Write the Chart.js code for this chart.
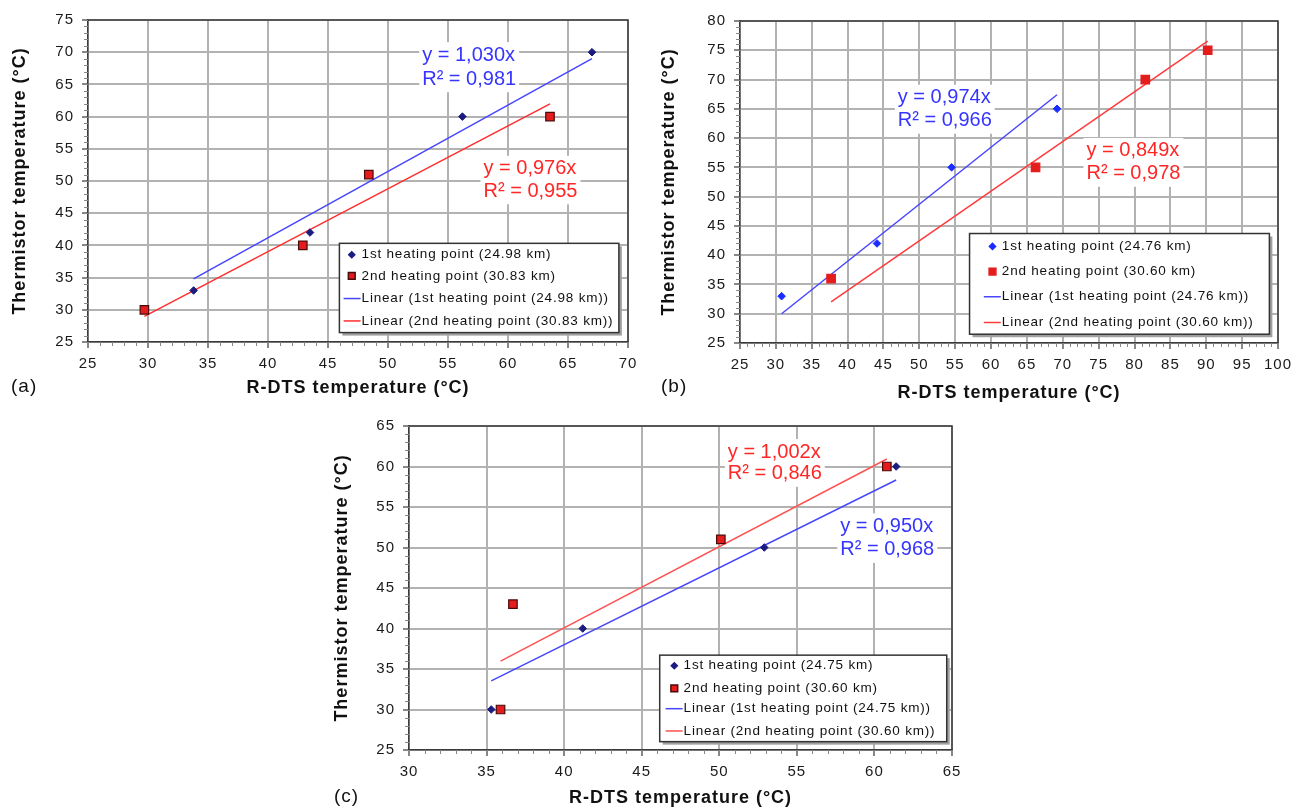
<!DOCTYPE html>
<html>
<head>
<meta charset="utf-8">
<script src="https://cdn.jsdelivr.net/npm/chart.js@4.4.1/dist/chart.umd.min.js"></script>
<style>
    html, body { margin: 0; padding: 0; background: #fff; width: 1300px; height: 811px; overflow: hidden; }
    .panel { position: absolute; }
    .tag { position: absolute; font: 19px "Liberation Sans", Arial, sans-serif; color: #111; letter-spacing: 1px; }
</style>
</head>
<body>
<div class="panel" style="left:0;top:0;width:650px;height:410px"><canvas id="chartA"></canvas></div>
<div class="panel" style="left:650px;top:0;width:650px;height:410px"><canvas id="chartB"></canvas></div>
<div class="panel" style="left:320px;top:405px;width:680px;height:406px"><canvas id="chartC"></canvas></div>
<div class="tag" style="left:11px;top:375px">(a)</div>
<div class="tag" style="left:661px;top:375px">(b)</div>
<div class="tag" style="left:334px;top:785px">(c)</div>
<script>
// (a)
var aRdts1 = [33.8, 43.5, 56.2, 67.0];
var aTherm1 = [33, 42, 60, 70];
var aRdts2 = [29.7, 42.9, 48.4, 63.5];
var aTherm2 = [30, 40, 51, 60];
var aSlopes = [1.030, 0.976];
var aR2 = [0.981, 0.955];
var aLabels = ['1st heating point (24.98 km)', '2nd heating point (30.83 km)'];

// (b)
var bRdts1 = [30.8, 44.1, 54.5, 69.2];
var bTherm1 = [33, 42, 55, 65];
var bRdts2 = [37.7, 66.2, 81.5, 90.2];
var bTherm2 = [36, 55, 70, 75];
var bSlopes = [0.974, 0.849];
var bR2 = [0.966, 0.978];
var bLabels = ['1st heating point (24.76 km)', '2nd heating point (30.60 km)'];

// (c)
var cRdts1 = [35.3, 41.2, 52.9, 61.4];
var cTherm1 = [30, 40, 50, 60];
var cRdts2 = [35.9, 36.7, 50.1, 60.8];
var cTherm2 = [30, 43, 51, 60];
var cSlopes = [0.950, 1.002];
var cR2 = [0.968, 0.846];
var cLabels = ['1st heating point (24.75 km)', '2nd heating point (30.60 km)'];

var xTitle = 'R-DTS temperature (°C)';
var yTitle = 'Thermistor temperature (°C)';
var FONT = '"Liberation Sans", Arial, sans-serif';

function points(xs, ys) {
    return xs.map(function (x, i) { return { x: x, y: ys[i] }; });
}

function fit(xs, k) {
    var lo = Math.min.apply(null, xs), hi = Math.max.apply(null, xs);
    return [{ x: lo, y: k * lo }, { x: hi, y: k * hi }];
}

function comma(v) { return v.toFixed(3).replace('.', ','); }

var frame = {
    id: 'frame',
    beforeDraw: function (chart) {
        chart.ctx.letterSpacing = '1px';
    },
    beforeDatasetsDraw: function (chart) {
        var ctx = chart.ctx, a = chart.chartArea, xs = chart.scales.x, ys = chart.scales.y;
        ctx.save();
        ctx.strokeStyle = '#888';
        ctx.lineWidth = 1;
        ctx.beginPath();
        for (var v = ys.min; v <= ys.max; v++) {
            var py = Math.round(ys.getPixelForValue(v)) + 0.5;
            ctx.moveTo(a.left - 4, py); ctx.lineTo(a.left, py);
        }
        for (var u = xs.min; u <= xs.max; u++) {
            var px = Math.round(xs.getPixelForValue(u)) + 0.5;
            ctx.moveTo(px, a.bottom); ctx.lineTo(px, a.bottom + 4);
        }
        ctx.stroke();
        ctx.strokeStyle = '#3a3a3a';
        ctx.lineWidth = 1.5;
        ctx.beginPath();
        ctx.moveTo(a.left, a.top); ctx.lineTo(a.right, a.top); ctx.lineTo(a.right, a.bottom);
        ctx.stroke();

        // equation labels
        var notes = chart.options.plugins.frame.notes;
        ctx.letterSpacing = '0px';
        ctx.font = '20px ' + FONT;
        ctx.textBaseline = 'middle';
        notes.forEach(function (n) {
            var x = xs.getPixelForValue(n.x);
            var y1 = ys.getPixelForValue(n.y1), y2 = ys.getPixelForValue(n.y2);
            var w = Math.max(ctx.measureText(n.lines[0]).width, ctx.measureText(n.lines[1]).width);
            ctx.fillStyle = '#fff';
            ctx.fillRect(x - 3, y1 - 13, w + 6, y2 - y1 + 26);
            ctx.fillStyle = n.color;
            ctx.fillText(n.lines[0], x, y1);
            ctx.fillText(n.lines[1], x, y2);
        });
        ctx.restore();
    },
    afterDatasetsDraw: function (chart) {
        var ctx = chart.ctx, xs = chart.scales.x, ys = chart.scales.y;
        var lg = chart.options.plugins.frame.legend;
        var l = xs.getPixelForValue(lg.x0), r = xs.getPixelForValue(lg.x1);
        var t = ys.getPixelForValue(lg.y0), b = ys.getPixelForValue(lg.y1);
        ctx.save();
        ctx.fillStyle = '#a0a0a0';
        ctx.fillRect(l + 3, t + 3, r - l, b - t);
        ctx.fillStyle = '#fff';
        ctx.fillRect(l, t, r - l, b - t);
        ctx.strokeStyle = '#333';
        ctx.lineWidth = 1.5;
        ctx.strokeRect(l, t, r - l, b - t);
        ctx.font = '13.5px ' + FONT;
        ctx.letterSpacing = '0.8px';
        ctx.textBaseline = 'middle';
        var mx = xs.getPixelForValue(lg.markX), tx = xs.getPixelForValue(lg.textX);
        chart.data.datasets.forEach(function (ds, i) {
            var y = ys.getPixelForValue(lg.rows[i]);
            if (ds.showLine) {
                ctx.strokeStyle = ds.borderColor;
                ctx.lineWidth = 1.5;
                ctx.beginPath();
                ctx.moveTo(tx - 18, y); ctx.lineTo(tx - 1, y);
                ctx.stroke();
            } else {
                ctx.fillStyle = ds.backgroundColor;
                ctx.strokeStyle = ds.borderColor;
                Chart.helpers.drawPoint(ctx, {
                    pointStyle: ds.pointStyle, rotation: 0,
                    radius: ds.pointRadius * 0.8, borderWidth: ds.borderWidth
                }, mx, y);
            }
            ctx.fillStyle = '#111';
            ctx.fillText(ds.label, tx, y);
        });
        ctx.restore();
    }
};

function makePanel(id, p) {
    var ctx = document.getElementById(id).getContext('2d');
    return new Chart(ctx, {
        type: 'scatter',
        data: {
            datasets: [{
                label: p.labels[0],
                data: points(p.x1, p.y1),
                pointStyle: 'rectRot',
                pointRadius: 3.8,
                backgroundColor: p.blueDot,
                borderColor: p.blueDot,
                borderWidth: 1
            }, {
                label: p.labels[1],
                data: points(p.x2, p.y2),
                pointStyle: 'rect',
                pointRadius: 6,
                backgroundColor: '#e41c1c',
                borderColor: p.redEdge,
                borderWidth: 1.2
            }, {
                type: 'line',
                label: 'Linear (' + p.labels[0] + ')',
                data: fit(p.x1, p.slopes[0]),
                showLine: true,
                pointRadius: 0,
                borderColor: '#4646ff',
                borderWidth: 1.5
            }, {
                type: 'line',
                label: 'Linear (' + p.labels[1] + ')',
                data: fit(p.x2, p.slopes[1]),
                showLine: true,
                pointRadius: 0,
                borderColor: p.redLine,
                borderWidth: 1.5
            }]
        },
        options: {
            responsive: true,
            maintainAspectRatio: false,
            animation: false,
            layout: { padding: p.pad },
            scales: {
                x: {
                    type: 'linear',
                    min: p.xr[0], max: p.xr[1],
                    afterFit: function (s) { s.height = p.xh; },
                    ticks: { stepSize: 5, padding: 7, color: '#1a1a1a', font: { family: FONT, size: 15 } },
                    grid: { color: '#b2b2b2', lineWidth: 2, tickLength: 6, tickColor: '#888' },
                    border: { color: '#3a3a3a', width: 1.5 },
                    title: {
                        display: true, text: xTitle, color: '#111',
                        padding: { top: 4, bottom: p.xtPad },
                        font: { family: FONT, size: 18, weight: 'bold' }
                    }
                },
                y: {
                    min: p.yr[0], max: p.yr[1],
                    afterFit: function (s) { s.width = p.yw; },
                    ticks: { stepSize: 5, padding: 8, color: '#1a1a1a', font: { family: FONT, size: 15 } },
                    grid: { color: '#b2b2b2', lineWidth: 2, tickLength: 6, tickColor: '#888' },
                    border: { color: '#3a3a3a', width: 1.5 },
                    title: {
                        display: true, text: yTitle, color: '#111',
                        padding: { top: p.ytPad, bottom: 4 },
                        font: { family: FONT, size: 18, weight: 'bold' }
                    }
                }
            },
            plugins: {
                legend: { display: false },
                tooltip: { enabled: false },
                frame: { notes: p.notes, legend: p.legend }
            }
        },
        plugins: [frame]
    });
}

makePanel('chartA', {
    x1: aRdts1, y1: aTherm1, x2: aRdts2, y2: aTherm2, slopes: aSlopes, labels: aLabels,
    blueDot: '#1c1c80', redEdge: '#4a0a0a', redLine: '#ff2e2e',
    xr: [25, 70], yr: [25, 75],
    pad: { left: 0, right: 22, top: 20, bottom: 7 }, xh: 61, yw: 88, xtPad: 4, ytPad: 9,
    notes: [
        { x: 52.85, y1: 69.55, y2: 65.8, color: '#3535ff',
          lines: ['y = ' + comma(aSlopes[0]) + 'x', 'R² = ' + comma(aR2[0])] },
        { x: 57.96, y1: 51.9, y2: 48.4, color: '#ff2626',
          lines: ['y = ' + comma(aSlopes[1]) + 'x', 'R² = ' + comma(aR2[1])] }
    ],
    legend: { x0: 45.95, x1: 69.24, y0: 40.32, y1: 26.46, markX: 46.98, textX: 47.8,
              rows: [38.55, 35.28, 31.75, 28.27] }
});

makePanel('chartB', {
    x1: bRdts1, y1: bTherm1, x2: bRdts2, y2: bTherm2, slopes: bSlopes, labels: bLabels,
    blueDot: '#1a2cff', redEdge: '#e41c1c', redLine: '#ff3a3a',
    xr: [25, 100], yr: [25, 80],
    pad: { left: 0, right: 22, top: 21, bottom: 2 }, xh: 65, yw: 90, xtPad: 4, ytPad: 8,
    notes: [
        { x: 47.0, y1: 66.9, y2: 62.95, color: '#3535ff',
          lines: ['y = ' + comma(bSlopes[0]) + 'x', 'R² = ' + comma(bR2[0])] },
        { x: 73.3, y1: 57.8, y2: 53.9, color: '#ff2626',
          lines: ['y = ' + comma(bSlopes[1]) + 'x', 'R² = ' + comma(bR2[1])] }
    ],
    legend: { x0: 57.0, x1: 98.8, y0: 43.7, y1: 26.5, markX: 60.2, textX: 61.5,
              rows: [41.5, 37.2, 32.9, 28.5] }
});

makePanel('chartC', {
    x1: cRdts1, y1: cTherm1, x2: cRdts2, y2: cTherm2, slopes: cSlopes, labels: cLabels,
    blueDot: '#1c1c80', redEdge: '#4a0a0a', redLine: '#ff5252',
    xr: [30, 65], yr: [25, 65],
    pad: { left: 0, right: 48, top: 21, bottom: 2 }, xh: 59, yw: 89, xtPad: 0, ytPad: 11,
    notes: [
        { x: 57.8, y1: 52.6, y2: 49.7, color: '#3535ff',
          lines: ['y = ' + comma(cSlopes[0]) + 'x', 'R² = ' + comma(cR2[0])] },
        { x: 50.55, y1: 61.78, y2: 59.1, color: '#ff2626',
          lines: ['y = ' + comma(cSlopes[1]) + 'x', 'R² = ' + comma(cR2[1])] }
    ],
    legend: { x0: 46.16, x1: 64.66, y0: 36.71, y1: 26.03, markX: 47.1, textX: 47.7,
              rows: [35.4, 32.6, 30.1, 27.35] }
});
</script>
</body>
</html>
